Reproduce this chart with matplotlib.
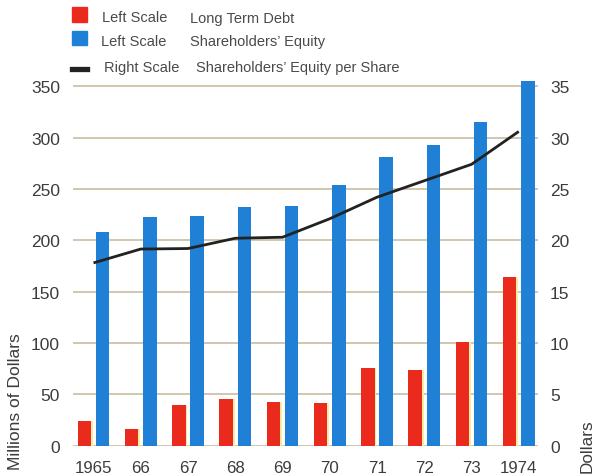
import matplotlib
matplotlib.use("Agg")
import matplotlib.pyplot as plt
from matplotlib.patches import Rectangle
from matplotlib.lines import Line2D
import numpy as np

# ---- data -------------------------------------------------------------
years = ["1965", "66", "67", "68", "69", "70", "71", "72", "73", "1974"]
long_term_debt = [24, 16, 40, 45, 43, 41.5, 76, 74, 101, 164]          # $ millions
shareholders_equity = [208, 223, 224, 232, 233, 254, 281, 293, 315, 355]  # $ millions
equity_per_share = [17.8, 19.15, 19.2, 20.2, 20.3, 22.1, 24.2, 25.8, 27.4, 30.6]  # dollars

left_ticks = [0, 50, 100, 150, 200, 250, 300, 350]
right_ticks = [0, 5, 10, 15, 20, 25, 30, 35]

# ---- styling ----------------------------------------------------------
RED = "#ea2a1d"
BLUE = "#1f80d6"
LINE = "#222222"
GRID = "#c9bea3"
TEXT = "#3c3c3c"
plt.rcParams["font.family"] = ["Liberation Sans", "DejaVu Sans"]

fig = plt.figure(figsize=(6.05, 4.77), dpi=100)
ax = fig.add_axes([0.12066, 0.06352, 0.76860, 0.77505])
ax2 = ax.twinx()

x = np.arange(len(years))
bar_w = 0.286
off = 0.194

ax.bar(x - off, long_term_debt, width=bar_w, color=RED, zorder=3)
# slight yellow fringe along the right side of the red bars
ax.bar(x - off + bar_w / 2 + 0.02, long_term_debt, width=0.04,
       color="#f4efa0", zorder=2.5)
ax.bar(x + off, shareholders_equity, width=bar_w, color=BLUE, zorder=3)

for v in left_ticks:
    ax.axhline(v, color=GRID, lw=1.2, zorder=1)

ax.set_xlim(-0.434, 9.407)
ax.set_ylim(0, 360)
ax2.set_ylim(0, 36)

ax2.plot(x, equity_per_share, color=LINE, lw=2.0, solid_capstyle="butt",
         solid_joinstyle="round", zorder=4)

for a in (ax, ax2):
    for s in a.spines.values():
        s.set_visible(False)

ax.set_yticks(left_ticks)
ax.set_yticklabels([str(t) for t in left_ticks])
ax.tick_params(axis="y", length=0, pad=9.4, labelsize=12.5, labelcolor=TEXT)
ax2.set_yticks(right_ticks)
ax2.set_yticklabels([str(t) for t in right_ticks])
ax2.tick_params(axis="y", length=0, pad=8.6, labelsize=12.5, labelcolor=TEXT)

ax.set_xticks(x)
ax.set_xticklabels(years)
ax.tick_params(axis="x", length=0, pad=10.0, labelsize=12.2, labelcolor=TEXT)

fig.text(15.5 / 605, 7 / 477, "Millions of Dollars", rotation=90,
         ha="center", va="bottom", fontsize=12.5, color=TEXT)
fig.text(587.5 / 605, 4 / 477, "Dollars", rotation=90,
         ha="center", va="bottom", fontsize=12.3, color=TEXT)

# ---- legend -----------------------------------------------------------
W, H = 605.0, 477.0
def fx(px):
    return px / W
def fy(py):
    return 1 - py / H

fig.patches.append(Rectangle((fx(72), fy(23)), 15 / W, 15.5 / H,
                             transform=fig.transFigure, color=RED))
fig.patches.append(Rectangle((fx(72), fy(45.5)), 15 / W, 14 / H,
                             transform=fig.transFigure, color=BLUE))
fig.lines.append(Line2D([fx(72), fx(87)], [fy(69.5), fy(69.5)],
                        transform=fig.transFigure, color=LINE, lw=3.8))

LEG = "#4a4a4a"
rows = [
    (18.5, 101.5, "Left Scale", 189.5, "Long Term Debt"),
    (42.0, 101.0, "Left Scale", 189.5, "Shareholders\u2019 Equity"),
    (68.0, 104.0, "Right Scale", 196.5, "Shareholders\u2019 Equity per Share"),
]
for yc, x1, t1, x2, t2 in rows:
    fig.text(fx(x1), fy(yc), t1, ha="left", va="center", fontsize=10.5, color=LEG)
    fig.text(fx(x2), fy(yc), t2, ha="left", va="center", fontsize=10.5, color=LEG)

fig.savefig("out.png", dpi=100)
